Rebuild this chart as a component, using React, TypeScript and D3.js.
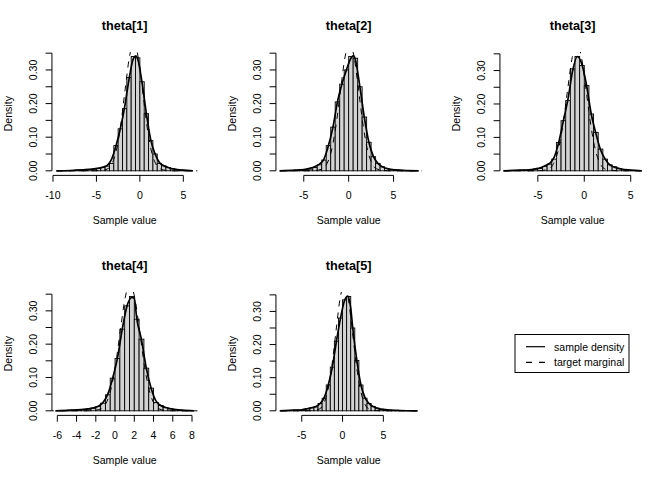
import React from "react";
import * as d3 from "d3";

// histogram settings (0.5 wide bins)
const titles = ["theta[1]", "theta[2]", "theta[3]", "theta[4]", "theta[5]"];
const breakStarts = [-9.5, -7.5, -8.5, -6, -7.5];
const binWidth = 0.5;

const dens1 = [0.001, 0.001, 0.001, 0.001, 0.002, 0.002, 0.003, 0.004, 0.005, 0.007, 0.01, 0.014, 0.022, 0.075, 0.125, 0.185, 0.278, 0.34, 0.336, 0.265, 0.17, 0.09, 0.05, 0.022, 0.015, 0.01, 0.006, 0.004, 0.002, 0.001, 0.001];
const dens2 = [0.001, 0.001, 0.001, 0.002, 0.002, 0.003, 0.005, 0.01, 0.018, 0.032, 0.075, 0.13, 0.205, 0.258, 0.3, 0.34, 0.335, 0.25, 0.16, 0.085, 0.042, 0.022, 0.012, 0.007, 0.004, 0.003, 0.002, 0.001, 0.001, 0.001];
const dens3 = [0.001, 0.001, 0.001, 0.002, 0.002, 0.003, 0.005, 0.007, 0.013, 0.02, 0.035, 0.085, 0.15, 0.21, 0.305, 0.342, 0.315, 0.255, 0.17, 0.115, 0.065, 0.035, 0.018, 0.012, 0.007, 0.004, 0.002, 0.001, 0.001];
const dens4 = [0.001, 0.001, 0.002, 0.002, 0.003, 0.004, 0.006, 0.008, 0.013, 0.023, 0.048, 0.098, 0.157, 0.245, 0.315, 0.343, 0.275, 0.215, 0.128, 0.068, 0.025, 0.016, 0.01, 0.006, 0.004, 0.002, 0.001, 0.001];
const dens5 = [0.001, 0.001, 0.001, 0.002, 0.002, 0.003, 0.006, 0.009, 0.012, 0.022, 0.038, 0.078, 0.132, 0.21, 0.28, 0.335, 0.345, 0.25, 0.152, 0.078, 0.038, 0.022, 0.013, 0.008, 0.005, 0.003, 0.002, 0.001, 0.001, 0.001, 0.001, 0.001, 0.001];
const densities = [dens1, dens2, dens3, dens4, dens5];

// sample density curves (solid)
const sampleX1 = [-9.6, -8, -6.5, -5.5, -4.75, -4.25, -3.75, -3.25, -2.75, -2.25, -1.75, -1.25, -0.75, -0.45, -0.25, 0.25, 0.75, 1.25, 1.75, 2.25, 2.75, 3.25, 4, 5, 6.1];
const sampleY1 = [0, 0.001, 0.003, 0.005, 0.008, 0.011, 0.016, 0.035, 0.074, 0.125, 0.19, 0.272, 0.334, 0.342, 0.333, 0.262, 0.17, 0.092, 0.05, 0.025, 0.015, 0.01, 0.005, 0.002, 0];
const sampleX2 = [-7.7, -6, -5, -4.25, -3.75, -3.25, -2.75, -2.25, -1.75, -1.25, -0.75, -0.25, 0.25, 0.55, 0.75, 1.25, 1.75, 2.25, 2.75, 3.25, 3.75, 4.5, 5.5, 7.8];
const sampleY2 = [0, 0.002, 0.004, 0.008, 0.013, 0.02, 0.035, 0.075, 0.13, 0.205, 0.258, 0.3, 0.335, 0.343, 0.33, 0.25, 0.158, 0.085, 0.043, 0.022, 0.012, 0.005, 0.002, 0];
const sampleX3 = [-8.7, -7, -6, -5.25, -4.75, -4.25, -3.75, -3.25, -2.75, -2.25, -1.75, -1.25, -0.75, -0.25, 0.25, 0.75, 1.25, 1.75, 2.25, 2.75, 3.25, 4, 5, 6.2];
const sampleY3 = [0, 0.002, 0.003, 0.006, 0.009, 0.015, 0.022, 0.04, 0.085, 0.15, 0.215, 0.3, 0.342, 0.318, 0.255, 0.17, 0.112, 0.063, 0.035, 0.018, 0.011, 0.005, 0.002, 0];
const sampleX4 = [-6.2, -4.5, -3.5, -2.75, -2.25, -1.75, -1.25, -0.75, -0.25, 0.25, 0.75, 1.25, 1.75, 2.0, 2.25, 2.75, 3.25, 3.75, 4.25, 4.75, 5.25, 6, 7, 8.2];
const sampleY4 = [0, 0.002, 0.004, 0.006, 0.009, 0.014, 0.025, 0.05, 0.098, 0.158, 0.245, 0.315, 0.34, 0.338, 0.278, 0.213, 0.128, 0.068, 0.03, 0.016, 0.01, 0.005, 0.002, 0];
const sampleX5 = [-7.7, -6, -5, -4.25, -3.75, -3.25, -2.75, -2.25, -1.75, -1.25, -0.75, -0.25, 0.25, 0.65, 1.0, 1.25, 1.75, 2.25, 2.75, 3.25, 3.75, 4.5, 5.5, 7, 9.2];
const sampleY5 = [0, 0.002, 0.003, 0.007, 0.01, 0.013, 0.022, 0.04, 0.078, 0.132, 0.21, 0.28, 0.333, 0.346, 0.31, 0.25, 0.152, 0.078, 0.04, 0.022, 0.013, 0.006, 0.003, 0.001, 0];
const sampleXs = [sampleX1, sampleX2, sampleX3, sampleX4, sampleX5];
const sampleYs = [sampleY1, sampleY2, sampleY3, sampleY4, sampleY5];

// target marginal curves (dashed)
const targetY = [0, 0, 0.001, 0.006, 0.022, 0.062, 0.137, 0.241, 0.339, 0.38, 0.339, 0.241, 0.137, 0.062, 0.022, 0.006, 0.001, 0, 0];
const targetX1 = [-11, -5.5, -4.5, -3.7, -3.2, -2.7, -2.2, -1.7, -1.2, -0.7, -0.2, 0.3, 0.8, 1.3, 1.8, 2.3, 3.1, 4.1, 7];
const targetX2 = [-9, -4.7, -3.7, -2.9, -2.4, -1.9, -1.4, -0.9, -0.4, 0.1, 0.6, 1.1, 1.6, 2.1, 2.6, 3.1, 3.9, 4.9, 9];
const targetX3 = [-10, -5.6, -4.6, -3.8, -3.3, -2.8, -2.3, -1.8, -1.3, -0.8, -0.3, 0.2, 0.7, 1.2, 1.7, 2.2, 3.0, 4.0, 7];
const targetX4 = [-7, -3.25, -2.25, -1.45, -0.95, -0.45, 0.05, 0.55, 1.05, 1.55, 2.05, 2.55, 3.05, 3.55, 4.05, 4.55, 5.35, 6.35, 9];
const targetX5 = [-9, -4.6, -3.6, -2.8, -2.3, -1.8, -1.3, -0.8, -0.3, 0.2, 0.7, 1.2, 1.7, 2.2, 2.7, 3.2, 4.0, 5.0, 10];
const targetXs = [targetX1, targetX2, targetX3, targetX4, targetX5];

const xTicks1 = [-10, -5, 0, 5];
const xTicks2 = [-5, 0, 5];
const xTicks3 = [-5, 0, 5];
const xTicks4 = [-6, -4, -2, 0, 2, 4, 6, 8];
const xTicks5 = [-5, 0, 5];
const xTicksAll = [xTicks1, xTicks2, xTicks3, xTicks4, xTicks5];

const yTicks = [0, 0.05, 0.1, 0.15, 0.2, 0.25, 0.3, 0.35];
const yTickLabels = ["0.00", "", "0.10", "", "0.20", "", "0.30", ""];

const legendLabels = ["sample density", "target marginal"];

const width = 672;
const height = 480;
const cellW = 224;
const cellH = 240;
const lh = 12.67; // one margin line
const marginLeft = 4.1 * lh;
const marginRight = 2.1 * lh;
const marginTop = 4.1 * lh;
const marginBottom = 5.1 * lh;
const font = "'Liberation Sans', Arial, Helvetica, sans-serif";
const fs = 10.56;

const Panel: React.FC<{ i: number }> = ({ i }) => {
  const col = i % 3;
  const row = Math.floor(i / 3);
  const dens = densities[i];
  const b0 = breakStarts[i];
  const b1 = b0 + dens.length * binWidth;
  const xr = b1 - b0;
  const ymax = d3.max(dens) as number;

  const left = marginLeft;
  const right = cellW - marginRight;
  const top = marginTop;
  const bottom = cellH - marginBottom;

  const x = d3.scaleLinear().domain([b0 - 0.04 * xr, b1 + 0.04 * xr]).range([left, right]);
  const y = d3.scaleLinear().domain([-0.04 * ymax, 1.04 * ymax]).range([bottom, top]);

  const sample = sampleXs[i].map((v, k) => [v, sampleYs[i][k]] as [number, number]);
  const target = targetXs[i].map((v, k) => [v, targetY[k]] as [number, number]);
  const line = d3
    .line<[number, number]>()
    .x((d) => x(d[0]))
    .y((d) => y(d[1]))
    .curve(d3.curveMonotoneX);

  const xt = xTicksAll[i];
  const clipId = "clip" + i;
  const tl = 0.5 * lh;

  return (
    <g transform={`translate(${col * cellW},${row * cellH})`}>
      <defs>
        <clipPath id={clipId}>
          <rect x={left} y={top} width={right - left} height={bottom - top} />
        </clipPath>
      </defs>
      {dens.map((d, k) => (
        <rect
          key={k}
          x={x(b0 + k * binWidth)}
          y={y(d)}
          width={x(b0 + (k + 1) * binWidth) - x(b0 + k * binWidth)}
          height={y(0) - y(d)}
          fill="#d3d3d3"
          stroke="#000"
          strokeWidth={0.9}
        />
      ))}
      <g clipPath={`url(#${clipId})`}>
        <path d={line(sample) as string} fill="none" stroke="#000" strokeWidth={1.7} />
        <path d={line(target) as string} fill="none" stroke="#000" strokeWidth={1} strokeDasharray="6,6" />
      </g>
      {/* x axis */}
      <line x1={x(xt[0])} x2={x(xt[xt.length - 1])} y1={bottom} y2={bottom} stroke="#000" />
      {xt.map((t) => (
        <g key={t}>
          <line x1={x(t)} x2={x(t)} y1={bottom} y2={bottom + tl} stroke="#000" />
          <text x={x(t)} y={bottom + 23.6} textAnchor="middle" fontSize={fs} fontFamily={font}>
            {t}
          </text>
        </g>
      ))}
      {/* y axis */}
      <line x1={left} x2={left} y1={y(yTicks[0])} y2={y(yTicks[yTicks.length - 1])} stroke="#000" />
      {yTicks.map((t, k) => (
        <g key={k}>
          <line x1={left} x2={left - tl} y1={y(t)} y2={y(t)} stroke="#000" />
          {yTickLabels[k] && (
            <text
              transform={`translate(${left - 15},${y(t)}) rotate(-90)`}
              textAnchor="middle"
              fontSize={fs}
              fontFamily={font}
            >
              {yTickLabels[k]}
            </text>
          )}
        </g>
      ))}
      <text
        x={(left + right) / 2}
        y={30}
        textAnchor="middle"
        fontSize={12.67}
        fontWeight="bold"
        fontFamily={font}
      >
        {titles[i]}
      </text>
      <text x={(left + right) / 2} y={bottom + 49} textAnchor="middle" fontSize={fs} fontFamily={font}>
        Sample value
      </text>
      <text
        transform={`translate(12,${(top + bottom) / 2}) rotate(-90)`}
        textAnchor="middle"
        fontSize={fs}
        fontFamily={font}
      >
        Density
      </text>
    </g>
  );
};

const App: React.FC = () => {
  return (
    <svg
      width={width}
      height={height}
      style={{ position: "absolute", left: 0, top: 0, background: "#fff" }}
    >
      <rect width={width} height={height} fill="#fff" />
      {titles.map((_, i) => (
        <Panel key={i} i={i} />
      ))}
      {/* legend */}
      <g>
        <rect x={515} y={334.5} width={114} height={38} fill="#fff" stroke="#000" />
        {legendLabels.map((lab, k) => (
          <g key={lab}>
            <line
              x1={526}
              x2={545}
              y1={346.7 + k * 15.6}
              y2={346.7 + k * 15.6}
              stroke="#000"
              strokeWidth={1.2}
              strokeDasharray={k === 1 ? "6,7" : undefined}
            />
            <text x={554} y={350.5 + k * 15.6} fontSize={fs} fontFamily={font}>
              {lab}
            </text>
          </g>
        ))}
      </g>
    </svg>
  );
};

export default App;
